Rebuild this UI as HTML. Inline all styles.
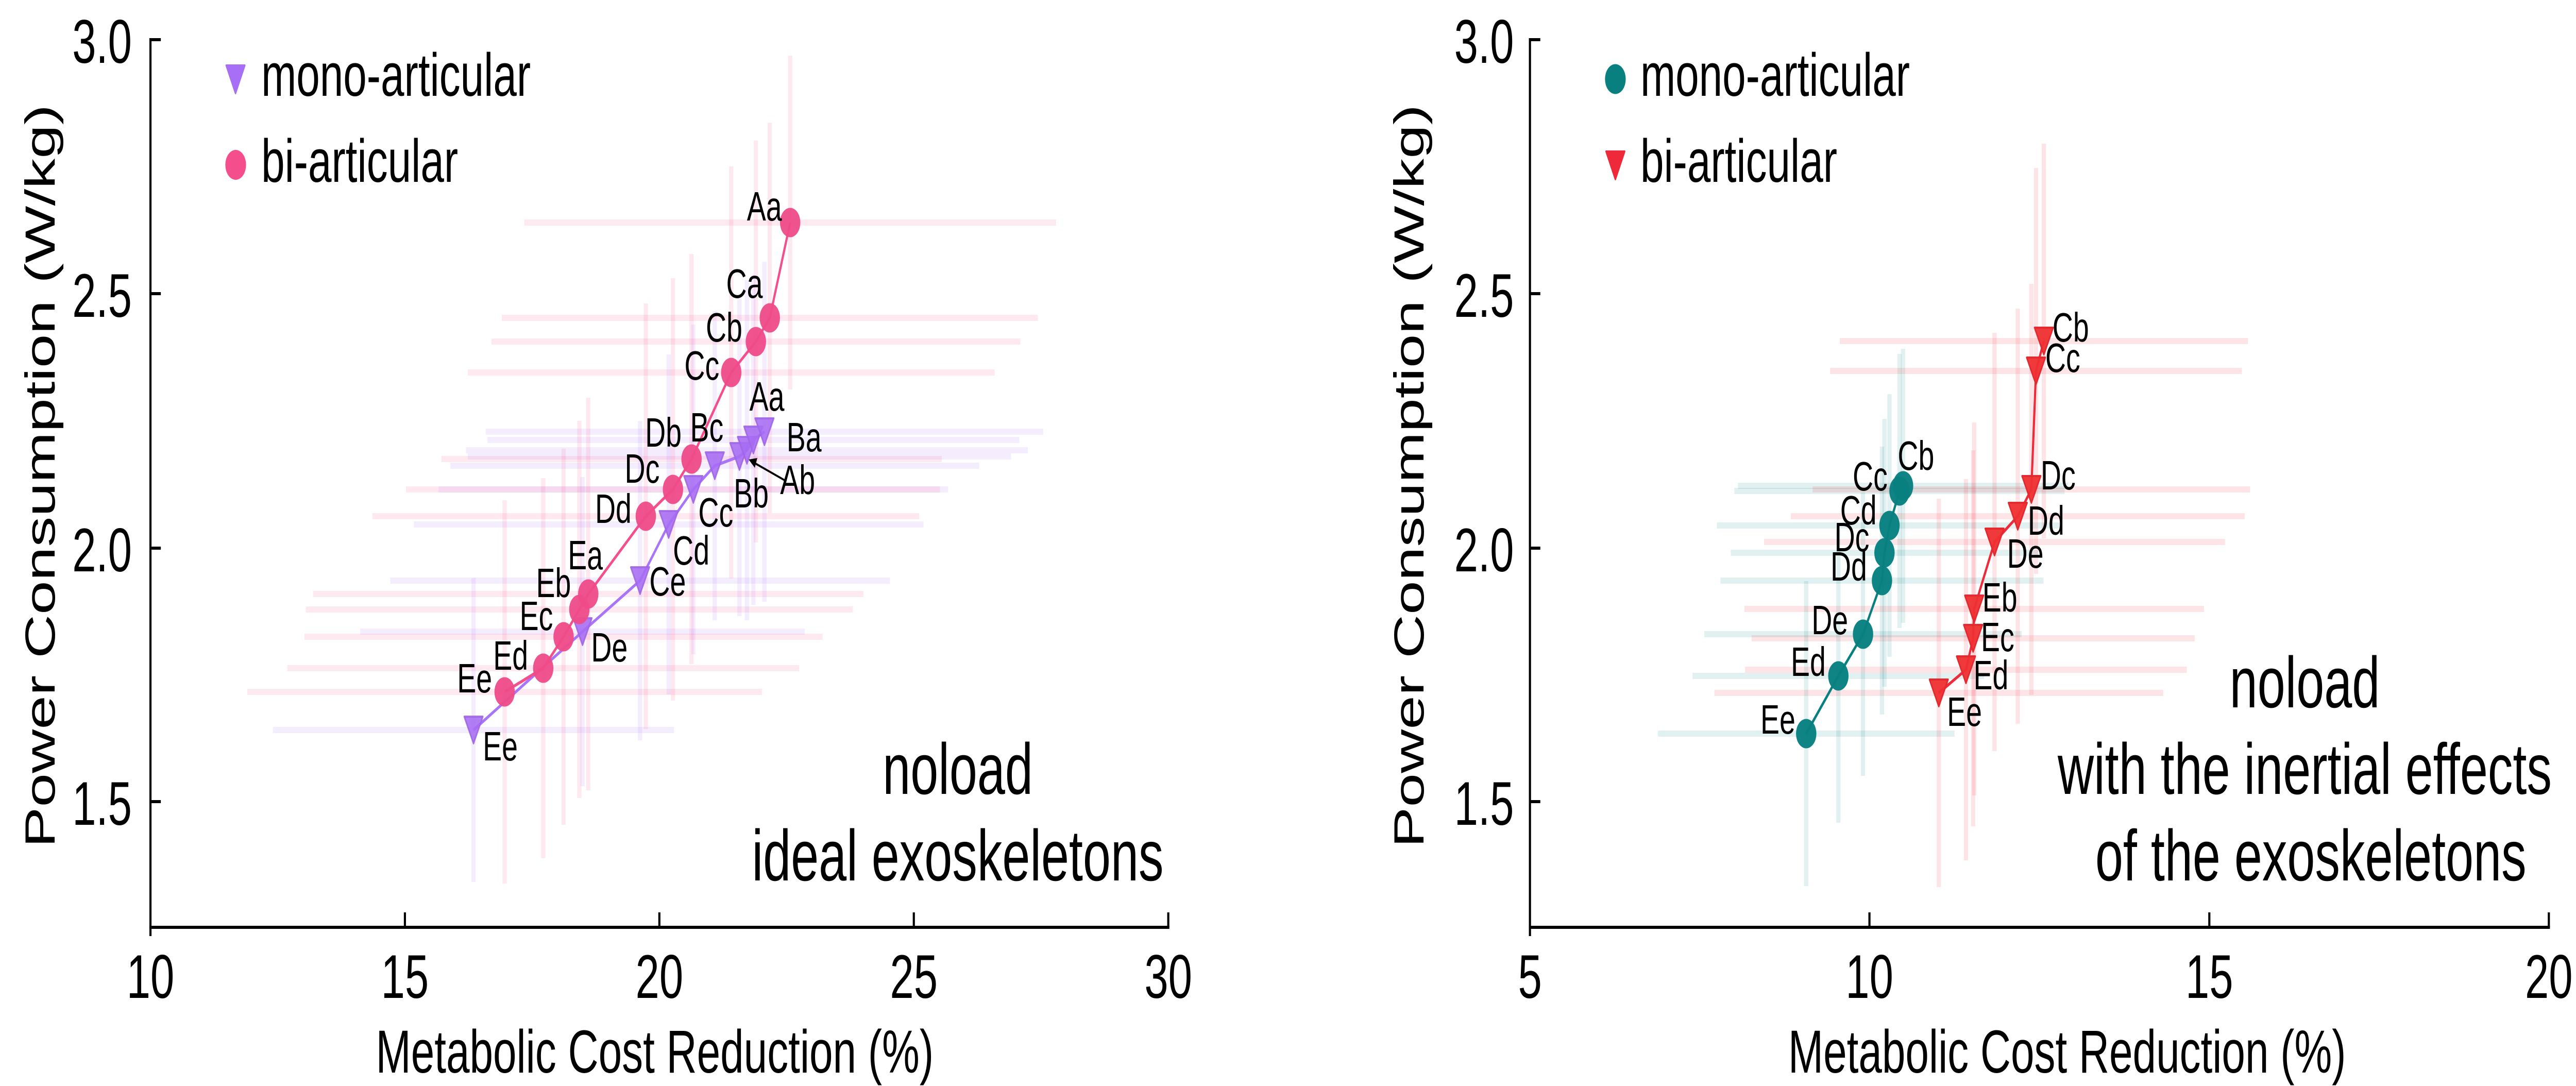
<!DOCTYPE html>
<html>
<head>
<meta charset="utf-8">
<style>
html,body{margin:0;padding:0;background:#fff;width:100%;height:100%;overflow:hidden;}
svg{display:block;position:absolute;left:0;top:0;width:100vw;height:100vh;}
text{font-family:"Liberation Sans",Arial,sans-serif;fill:#000;}
</style>
</head>
<body>
<svg viewBox="0 0 7208 2108" preserveAspectRatio="none" xmlns="http://www.w3.org/2000/svg">
<rect width="7208" height="2108" fill="#fff"/>

<!-- ================= LEFT PANEL ================= -->
<g stroke="rgb(166,110,246)" stroke-opacity="0.12" stroke-width="12" fill="none">
<line x1="1359" y1="838" x2="2919" y2="838"/><line x1="2139" y1="508" x2="2139" y2="1168"/>
<line x1="1364" y1="854" x2="2852" y2="854"/><line x1="2108" y1="534" x2="2108" y2="1174"/>
<line x1="1304" y1="874" x2="2876" y2="874"/><line x1="2090" y1="544" x2="2090" y2="1204"/>
<line x1="1309" y1="886" x2="2829" y2="886"/><line x1="2069" y1="576" x2="2069" y2="1196"/>
<line x1="1260" y1="904" x2="2740" y2="904"/><line x1="2000" y1="604" x2="2000" y2="1204"/>
<line x1="1227" y1="950" x2="2653" y2="950"/><line x1="1940" y1="630" x2="1940" y2="1270"/>
<line x1="1158" y1="1018" x2="2584" y2="1018"/><line x1="1871" y1="688" x2="1871" y2="1348"/>
<line x1="1092" y1="1127" x2="2490" y2="1127"/><line x1="1791" y1="817" x2="1791" y2="1437"/>
<line x1="1008" y1="1226" x2="2252" y2="1226"/><line x1="1630" y1="926" x2="1630" y2="1526"/>
<line x1="764" y1="1417" x2="1886" y2="1417"/><line x1="1325" y1="1122" x2="1325" y2="1712"/>
</g>
<g stroke="rgb(244,78,140)" stroke-opacity="0.12" stroke-width="12" fill="none">
<line x1="1467" y1="432" x2="2955" y2="432"/><line x1="2211" y1="108" x2="2211" y2="756"/>
<line x1="1404" y1="617" x2="2904" y2="617"/><line x1="2154" y1="238" x2="2154" y2="996"/>
<line x1="1375" y1="663" x2="2855" y2="663"/><line x1="2115" y1="273" x2="2115" y2="1053"/>
<line x1="1309" y1="723" x2="2783" y2="723"/><line x1="2046" y1="323" x2="2046" y2="1123"/>
<line x1="1235" y1="891" x2="2635" y2="891"/><line x1="1935" y1="493" x2="1935" y2="1289"/>
<line x1="1136" y1="950" x2="2630" y2="950"/><line x1="1883" y1="540" x2="1883" y2="1360"/>
<line x1="1042" y1="1002" x2="2572" y2="1002"/><line x1="1807" y1="589" x2="1807" y2="1415"/>
<line x1="876" y1="1153" x2="2416" y2="1153"/><line x1="1646" y1="772" x2="1646" y2="1534"/>
<line x1="856" y1="1183" x2="2386" y2="1183"/><line x1="1621" y1="817" x2="1621" y2="1549"/>
<line x1="852" y1="1236" x2="2302" y2="1236"/><line x1="1577" y1="871" x2="1577" y2="1601"/>
<line x1="804" y1="1297" x2="2236" y2="1297"/><line x1="1520" y1="928" x2="1520" y2="1666"/>
<line x1="692" y1="1343" x2="2132" y2="1343"/><line x1="1412" y1="971" x2="1412" y2="1715"/>
</g>

<polyline fill="none" stroke="#A874F8" stroke-width="6" stroke-linejoin="round"
 points="1325,1417 1630,1226 1791,1127 1871,1018 1940,950 2000,904 2069,886 2090,874 2108,854 2139,838"/>
<g fill="#A66CF2" fill-opacity="0.88" stroke="#A066E6" stroke-opacity="0.9" stroke-width="4" stroke-linejoin="round">
<path d="M1299 1391 h52 l-26 52z"/>
<path d="M1604 1200 h52 l-26 52z"/>
<path d="M1765 1101 h52 l-26 52z"/>
<path d="M1845 992 h52 l-26 52z"/>
<path d="M1914 924 h52 l-26 52z"/>
<path d="M1974 878 h52 l-26 52z"/>
<path d="M2043 860 h52 l-26 52z"/>
<path d="M2064 848 h52 l-26 52z"/>
<path d="M2082 828 h52 l-26 52z"/>
<path d="M2113 812 h52 l-26 52z"/>
</g>

<polyline fill="none" stroke="#F44E8C" stroke-width="6" stroke-linejoin="round"
 points="1412,1343 1520,1297 1577,1236 1621,1183 1646,1153 1807,1002 1883,950 1935,891 2046,723 2115,663 2154,617 2211,432"/>
<g fill="#EE4B88" fill-opacity="0.95">
<circle cx="1412" cy="1343" r="28.5"/>
<circle cx="1520" cy="1297" r="28.5"/>
<circle cx="1577" cy="1236" r="28.5"/>
<circle cx="1621" cy="1183" r="28.5"/>
<circle cx="1646" cy="1153" r="28.5"/>
<circle cx="1807" cy="1002" r="28.5"/>
<circle cx="1883" cy="950" r="28.5"/>
<circle cx="1935" cy="891" r="28.5"/>
<circle cx="2046" cy="723" r="28.5"/>
<circle cx="2115" cy="663" r="28.5"/>
<circle cx="2154" cy="617" r="28.5"/>
<circle cx="2211" cy="432" r="28.5"/>
</g>

<g font-size="80">
<text x="2090" y="428">Aa</text>
<text x="2032" y="578">Ca</text>
<text x="1975" y="663">Cb</text>
<text x="1915" y="737">Cc</text>
<text x="1805" y="867">Db</text>
<text x="1748" y="937">Dc</text>
<text x="1665" y="1015">Dd</text>
<text x="1589" y="1105">Ea</text>
<text x="1500" y="1159">Eb</text>
<text x="1454" y="1223">Ec</text>
<text x="1380" y="1300">Ed</text>
<text x="1279" y="1344">Ee</text>
<text x="2097" y="797">Aa</text>
<text x="1931" y="857">Bc</text>
<text x="2201" y="876">Ba</text>
<text x="2183" y="959">Ab</text>
<text x="2053" y="985">Bb</text>
<text x="1954" y="1022">Cc</text>
<text x="1883" y="1096">Cd</text>
<text x="1817" y="1156">Ce</text>
<text x="1654" y="1284">De</text>
<text x="1351" y="1476">Ee</text>
</g>
<line x1="2195" y1="932" x2="2112" y2="899" stroke="#000" stroke-width="4"/>
<path d="M2095 892 L2119 889 L2112 908 Z" fill="#000"/>

<g stroke="#000" stroke-width="6" fill="none">
<line x1="421" y1="74" x2="421" y2="1817"/>
<line x1="418" y1="1800" x2="3272" y2="1800"/>
<line x1="421" y1="77" x2="450" y2="77"/>
<line x1="421" y1="570" x2="450" y2="570"/>
<line x1="421" y1="1064" x2="450" y2="1064"/>
<line x1="421" y1="1556" x2="450" y2="1556"/>
<line x1="1133" y1="1800" x2="1133" y2="1771"/>
<line x1="1845" y1="1800" x2="1845" y2="1771"/>
<line x1="2557" y1="1800" x2="2557" y2="1771"/>
<line x1="3269" y1="1800" x2="3269" y2="1771"/>
</g>
<g font-size="120" text-anchor="end">
<text x="369" y="122">3.0</text>
<text x="369" y="615">2.5</text>
<text x="369" y="1109">2.0</text>
<text x="369" y="1601">1.5</text>
</g>
<g font-size="120" text-anchor="middle">
<text x="421" y="1937">10</text>
<text x="1133" y="1937">15</text>
<text x="1845" y="1937">20</text>
<text x="2557" y="1937">25</text>
<text x="3269" y="1937">30</text>
</g>
<text x="1832" y="2082" font-size="118" text-anchor="middle">Metabolic Cost Reduction (%)</text>
<text x="153" y="924" font-size="118" text-anchor="middle" transform="rotate(-90 153 924)">Power Consumption (W/kg)</text>

<path d="M633 127 h52 l-26 54z" fill="#A66FF6" stroke="#A66FF6" stroke-width="4" stroke-linejoin="round"/>
<text x="731" y="186" font-size="118">mono-articular</text>
<circle cx="659.5" cy="320" r="29" fill="#F44E8C"/>
<text x="731" y="353" font-size="118">bi-articular</text>

<g font-size="140" text-anchor="middle">
<text x="2680" y="1541">noload</text>
<text x="2680" y="1709">ideal exoskeletons</text>
</g>

<!-- ================= RIGHT PANEL ================= -->
<g stroke="rgb(8,128,128)" stroke-opacity="0.12" stroke-width="12" fill="none">
<line x1="4863" y1="943" x2="5787" y2="943"/><line x1="5325" y1="677" x2="5325" y2="1209"/>
<line x1="4853" y1="953" x2="5777" y2="953"/><line x1="5315" y1="687" x2="5315" y2="1219"/>
<line x1="4804" y1="1020" x2="5770" y2="1020"/><line x1="5287" y1="765" x2="5287" y2="1275"/>
<line x1="4843" y1="1073" x2="5703" y2="1073"/><line x1="5273" y1="813" x2="5273" y2="1333"/>
<line x1="4814" y1="1127" x2="5718" y2="1127"/><line x1="5266" y1="867" x2="5266" y2="1387"/>
<line x1="4769" y1="1231" x2="5657" y2="1231"/><line x1="5213" y1="956" x2="5213" y2="1506"/>
<line x1="4736" y1="1312" x2="5552" y2="1312"/><line x1="5144" y1="1027" x2="5144" y2="1597"/>
<line x1="4639" y1="1424" x2="5469" y2="1424"/><line x1="5054" y1="1128" x2="5054" y2="1720"/>
</g>
<g stroke="rgb(238,43,57)" stroke-opacity="0.12" stroke-width="12" fill="none">
<line x1="5148" y1="662" x2="6290" y2="662"/><line x1="5719" y1="279" x2="5719" y2="1045"/>
<line x1="5121" y1="720" x2="6273" y2="720"/><line x1="5697" y1="326" x2="5697" y2="1114"/>
<line x1="5072" y1="950" x2="6296" y2="950"/><line x1="5684" y1="551" x2="5684" y2="1349"/>
<line x1="5011" y1="1002" x2="6281" y2="1002"/><line x1="5646" y1="599" x2="5646" y2="1405"/>
<line x1="4936" y1="1052" x2="6226" y2="1052"/><line x1="5581" y1="646" x2="5581" y2="1458"/>
<line x1="4881" y1="1182" x2="6167" y2="1182"/><line x1="5524" y1="820" x2="5524" y2="1544"/>
<line x1="4901" y1="1239" x2="6141" y2="1239"/><line x1="5521" y1="874" x2="5521" y2="1604"/>
<line x1="4883" y1="1300" x2="6119" y2="1300"/><line x1="5501" y1="930" x2="5501" y2="1670"/>
<line x1="4797" y1="1345" x2="6053" y2="1345"/><line x1="5425" y1="968" x2="5425" y2="1722"/>
</g>

<polyline fill="none" stroke="#088080" stroke-width="6" stroke-linejoin="round"
 points="5054,1424 5144,1312 5213,1231 5266,1127 5273,1073 5287,1020 5315,953 5325,943"/>
<g fill="#088080" fill-opacity="0.97">
<circle cx="5054" cy="1424" r="28.5"/>
<circle cx="5144" cy="1312" r="28.5"/>
<circle cx="5213" cy="1231" r="28.5"/>
<circle cx="5266" cy="1127" r="28.5"/>
<circle cx="5273" cy="1073" r="28.5"/>
<circle cx="5287" cy="1020" r="28.5"/>
<circle cx="5315" cy="953" r="28.5"/>
<circle cx="5325" cy="943" r="28.5"/>
</g>

<polyline fill="none" stroke="#EE2B3A" stroke-width="6" stroke-linejoin="round"
 points="5425,1345 5501,1300 5521,1239 5524,1182 5581,1052 5646,1002 5684,950 5697,720 5719,662"/>
<g fill="#EE2F32" fill-opacity="0.95" stroke="#E22A30" stroke-width="4" stroke-linejoin="round">
<path d="M5399 1319 h52 l-26 52z"/>
<path d="M5475 1274 h52 l-26 52z"/>
<path d="M5495 1213 h52 l-26 52z"/>
<path d="M5498 1156 h52 l-26 52z"/>
<path d="M5555 1026 h52 l-26 52z"/>
<path d="M5620 976 h52 l-26 52z"/>
<path d="M5658 924 h52 l-26 52z"/>
<path d="M5671 694 h52 l-26 52z"/>
<path d="M5693 636 h52 l-26 52z"/>
</g>

<g font-size="80">
<text x="5310" y="912">Cb</text>
<text x="5184" y="952">Cc</text>
<text x="5149" y="1018">Cd</text>
<text x="5133" y="1070">Dc</text>
<text x="5122" y="1127">Dd</text>
<text x="5069" y="1231">De</text>
<text x="5011" y="1312">Ed</text>
<text x="4926" y="1424">Ee</text>
<text x="5743" y="663">Cb</text>
<text x="5723" y="722">Cc</text>
<text x="5710" y="950">Dc</text>
<text x="5674" y="1038">Dd</text>
<text x="5616" y="1102">De</text>
<text x="5547" y="1187">Eb</text>
<text x="5543" y="1264">Ec</text>
<text x="5522" y="1338">Ed</text>
<text x="5448" y="1409">Ee</text>
</g>

<g stroke="#000" stroke-width="6" fill="none">
<line x1="4281" y1="74" x2="4281" y2="1817"/>
<line x1="4278" y1="1800" x2="7135" y2="1800"/>
<line x1="4281" y1="77" x2="4310" y2="77"/>
<line x1="4281" y1="570" x2="4310" y2="570"/>
<line x1="4281" y1="1064" x2="4310" y2="1064"/>
<line x1="4281" y1="1556" x2="4310" y2="1556"/>
<line x1="5231" y1="1800" x2="5231" y2="1771"/>
<line x1="6182" y1="1800" x2="6182" y2="1771"/>
<line x1="7132" y1="1800" x2="7132" y2="1771"/>
</g>
<g font-size="120" text-anchor="end">
<text x="4236" y="122">3.0</text>
<text x="4236" y="615">2.5</text>
<text x="4236" y="1109">2.0</text>
<text x="4236" y="1601">1.5</text>
</g>
<g font-size="120" text-anchor="middle">
<text x="4281" y="1937">5</text>
<text x="5231" y="1937">10</text>
<text x="6182" y="1937">15</text>
<text x="7132" y="1937">20</text>
</g>
<text x="5784" y="2082" font-size="118" text-anchor="middle">Metabolic Cost Reduction (%)</text>
<text x="3983" y="924" font-size="118" text-anchor="middle" transform="rotate(-90 3983 924)">Power Consumption (W/kg)</text>

<circle cx="4520" cy="153.5" r="29" fill="#088080"/>
<text x="4590" y="186" font-size="118">mono-articular</text>
<path d="M4494 294 h52 l-26 54z" fill="#EE2A3A" stroke="#EE2A3A" stroke-width="4" stroke-linejoin="round"/>
<text x="4590" y="353" font-size="118">bi-articular</text>

<g font-size="140" text-anchor="middle">
<text x="6449" y="1373">noload</text>
<text x="6449" y="1541">with the inertial effects</text>
<text x="6466" y="1709">of the exoskeletons</text>
</g>
</svg>
</body>
</html>
